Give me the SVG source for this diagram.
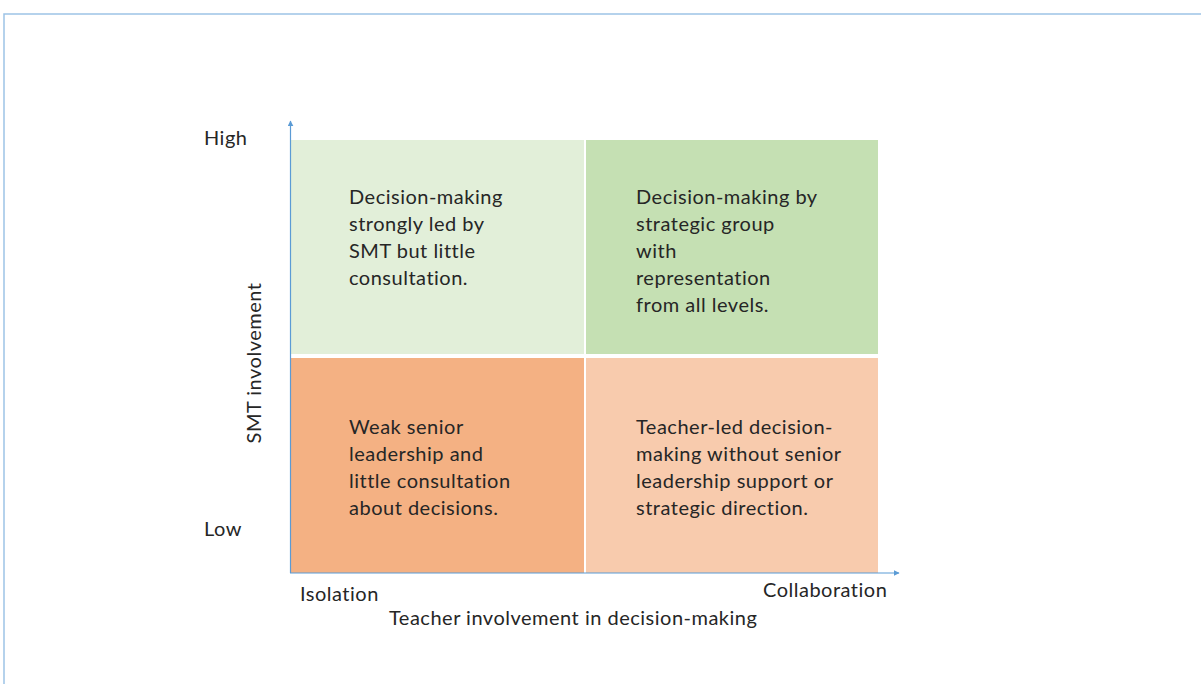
<svg xmlns="http://www.w3.org/2000/svg" width="1201" height="684" viewBox="0 0 1201 684">
<style>
text{font-family:Lato,"Liberation Sans",sans-serif;font-size:20px;letter-spacing:0.5px;fill:#262626}
.ax{stroke:#5b9bd5;stroke-width:1.2;fill:none}
.frame{stroke:#9dc3e6;stroke-width:1.5;fill:none}
</style>
<defs>
<marker id="ah" viewBox="0 0 10 10" refX="9" refY="5" markerWidth="5" markerHeight="5" orient="auto"><path d="M0,0 L10,5 L0,10 z" fill="#5b9bd5"/></marker>
</defs>
<rect width="1201" height="684" fill="#fff"/>
<path class="frame" d="M4,684 V14 H1201"/>
<g id="q-tl"><rect x="291" y="140" width="293" height="214" fill="#e2efd9"/>
<text x="349" y="204">Decision-making</text><text x="349" y="231">strongly led by</text><text x="349" y="258">SMT but little</text><text x="349" y="285">consultation.</text></g>
<g id="q-tr"><rect x="586" y="140" width="292" height="214" fill="#c5e0b3"/>
<text x="636" y="204">Decision-making by</text><text x="636" y="231">strategic group</text><text x="636" y="258">with</text><text x="636" y="285">representation</text><text x="636" y="312">from all levels.</text></g>
<g id="q-bl"><rect x="291" y="358" width="293" height="215" fill="#f4b183"/>
<text x="349" y="434">Weak senior</text><text x="349" y="461">leadership and</text><text x="349" y="488">little consultation</text><text x="349" y="515">about decisions.</text></g>
<g id="q-br"><rect x="586" y="358" width="292" height="215" fill="#f8cbad"/>
<text x="636" y="434">Teacher-led decision-</text><text x="636" y="461">making without senior</text><text x="636" y="488">leadership support or</text><text x="636" y="515">strategic direction.</text></g>
<g id="connectors">
<line class="ax" x1="290.5" y1="573" x2="290.5" y2="121" marker-end="url(#ah)"/>
<line class="ax" x1="290" y1="573" x2="899" y2="573" marker-end="url(#ah)"/>
</g>
<g id="labels">
<text x="204" y="145">High</text>
<text x="204" y="536">Low</text>
<text x="300" y="601">Isolation</text>
<text x="763" y="597">Collaboration</text>
<text x="389" y="625">Teacher involvement in decision-making</text>
<text transform="translate(261,363) rotate(-90)" text-anchor="middle">SMT involvement</text>
</g>
</svg>
